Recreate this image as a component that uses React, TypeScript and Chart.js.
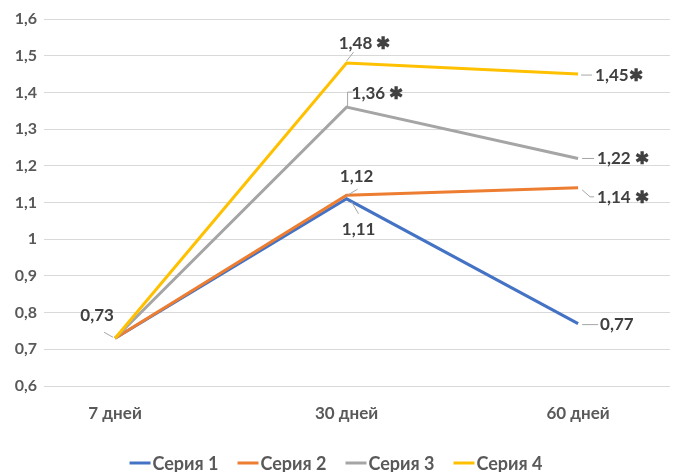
import React, { useEffect, useRef } from "react";
import { Chart, registerables } from "chart.js";

Chart.register(...registerables);

const categories = ["7 дней", "30 дней", "60 дней"];
const seriesNames = ["Серия 1", "Серия 2", "Серия 3", "Серия 4"];
const series1 = [0.73, 1.11, 0.77];
const series2 = [0.73, 1.12, 1.14];
const series3 = [0.73, 1.36, 1.22];
const series4 = [0.73, 1.48, 1.45];
const labels1 = ["", "1,11", "0,77"];
const labels2 = ["", "1,12", "1,14 ✱"];
const labels3 = ["", "1,36 ✱", "1,22 ✱"];
const labels4 = ["0,73", "1,48 ✱", "1,45✱"];
const yMin = 0.6;
const yMax = 1.6;
const yStep = 0.1;

const colors = ["#4472C4", "#ED7D31", "#A5A5A5", "#FFC000"];
const allValues = [series1, series2, series3, series4];
const allLabels = [labels1, labels2, labels3, labels4];

const FONT = "Lato, 'Open Sans', sans-serif";
const TEXT = "#404040";

// layout of each data label: text offset, alignment, leader points (relative to the point)
type Lay = { dx: number; dy: number; align: CanvasTextAlign; lead: number[][] };
const labelLayout: Record<string, Lay> = {
  "3-0": { dx: -18, dy: -23, align: "center", lead: [[-11, -6], [-2, -1]] },
  "3-1": { dx: 18, dy: -20, align: "center", lead: [[0, -2], [7, -11]] },
  "2-1": { dx: 5, dy: -14, align: "left", lead: [[1, -1], [1, -15], [6, -15]] },
  "1-1": { dx: 10, dy: -19, align: "center", lead: [[1, 0], [11, -6]] },
  "0-1": { dx: 12, dy: 31, align: "center", lead: [[5, 3], [12, 15]] },
  "3-2": { dx: 17, dy: 1, align: "left", lead: [[3, 1], [14, 1]] },
  "2-2": { dx: 19, dy: 0, align: "left", lead: [[4, 0], [16, 0]] },
  "1-2": { dx: 19, dy: 10, align: "left", lead: [[4, 2], [12, 9], [16, 9]] },
  "0-2": { dx: 22, dy: 1, align: "left", lead: [[4, 1], [20, 1]] },
};

const fmt = (v: number) => {
  const r = Math.round(v * 10) / 10;
  return String(r).replace(".", ",");
};

const dataLabelPlugin = {
  id: "dataLabels",
  afterDatasetsDraw(chart: any) {
    const ctx = chart.ctx;
    ctx.save();
    ctx.font = `bold 17px ${FONT}`;
    ctx.textBaseline = "middle";
    allLabels.forEach((labs, di) => {
      const meta = chart.getDatasetMeta(di);
      labs.forEach((txt, i) => {
        if (!txt) return;
        const lay = labelLayout[`${di}-${i}`];
        const pt = meta.data[i];
        if (!lay || !pt) return;
        ctx.strokeStyle = "#A6A6A6";
        ctx.lineWidth = 1;
        ctx.beginPath();
        lay.lead.forEach((p, k) => {
          if (k === 0) ctx.moveTo(pt.x + p[0], pt.y + p[1]);
          else ctx.lineTo(pt.x + p[0], pt.y + p[1]);
        });
        ctx.stroke();
        ctx.fillStyle = TEXT;
        ctx.textAlign = lay.align;
        ctx.fillText(txt, pt.x + lay.dx, pt.y + lay.dy);
      });
    });
    ctx.restore();
  },
};

const legendPlugin = {
  id: "customLegend",
  afterDraw(chart: any) {
    const ctx = chart.ctx;
    ctx.save();
    ctx.font = `bold 18px ${FONT}`;
    ctx.textBaseline = "middle";
    ctx.textAlign = "left";
    const lineW = 21;
    const gap = 2;
    const itemGap = 19;
    const widths = seriesNames.map((n) => lineW + gap + ctx.measureText(n).width);
    const total = widths.reduce((a, b) => a + b, 0) + itemGap * (seriesNames.length - 1);
    let x = 336 - total / 2;
    const y = 463;
    seriesNames.forEach((n, i) => {
      ctx.strokeStyle = colors[i];
      ctx.lineWidth = 3;
      ctx.beginPath();
      ctx.moveTo(x, y);
      ctx.lineTo(x + lineW, y);
      ctx.stroke();
      ctx.fillStyle = "#595959";
      ctx.fillText(n, x + lineW + gap, y + 1);
      x += widths[i] + itemGap;
    });
    ctx.restore();
  },
};

function App() {
  const ref = useRef<HTMLCanvasElement>(null);
  useEffect(() => {
    if (!ref.current) return;
    const chart = new Chart(ref.current, {
      type: "line",
      data: {
        datasets: allValues.map((vals, i) => ({
          label: seriesNames[i],
          data: vals.map((v, k) => ({ x: k, y: v })),
          borderColor: colors[i],
          backgroundColor: colors[i],
          borderWidth: 3,
          pointRadius: 0,
          tension: 0,
          order: 4 - i,
        })),
      },
      options: {
        animation: false,
        responsive: true,
        maintainAspectRatio: false,
        layout: { padding: { top: 19, right: 6, left: 0, bottom: 0 } },
        plugins: { legend: { display: false }, tooltip: { enabled: false } },
        scales: {
          x: {
            type: "linear",
            min: -0.307,
            max: 2.397,
            afterBuildTicks: (s: any) => {
              s.ticks = categories.map((_, i) => ({ value: i }));
            },
            afterFit: (s: any) => {
              s.height = 86;
            },
            grid: { display: false, drawTicks: false },
            border: { display: false },
            ticks: {
              padding: 17,
              maxRotation: 0,
              autoSkip: false,
              color: "#595959",
              font: { family: FONT, size: 17, weight: "bold" },
              callback: (v: any) => categories[Number(v)] ?? "",
            },
          },
          y: {
            min: yMin,
            max: yMax,
            afterFit: (s: any) => {
              s.width = 44;
            },
            grid: { color: "#D9D9D9", lineWidth: 1, drawTicks: false },
            border: { display: false },
            ticks: {
              stepSize: yStep,
              padding: 7,
              color: "#595959",
              font: { family: FONT, size: 16, weight: "bold" },
              callback: (v: any) => fmt(Number(v)),
            },
          },
        },
      },
      plugins: [dataLabelPlugin, legendPlugin],
    } as any);
    return () => chart.destroy();
  }, []);
  return (
    <div style={{ position: "absolute", left: 0, top: 0, width: 676, height: 472, background: "#fff" }}>
      <canvas ref={ref} />
    </div>
  );
}

export default App;
